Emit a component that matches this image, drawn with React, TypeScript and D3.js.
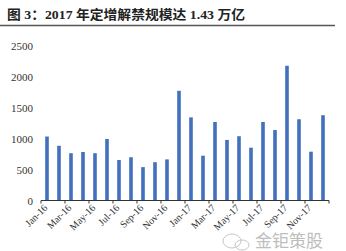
import React from "react";
import * as d3 from "d3";

const months = [
  "Jan-16","Feb-16","Mar-16","Apr-16","May-16","Jun-16","Jul-16","Aug-16","Sep-16","Oct-16","Nov-16","Dec-16",
  "Jan-17","Feb-17","Mar-17","Apr-17","May-17","Jun-17","Jul-17","Aug-17","Sep-17","Oct-17","Nov-17","Dec-17",
];
const values = [
  1035, 885, 765, 785, 765, 995, 655, 700, 540, 620, 665, 1775,
  1345, 725, 1270, 980, 1040, 855, 1270, 1140, 2180, 1315, 790, 1380,
];
const yTicks = [0, 500, 1000, 1500, 2000, 2500];
const title = "图 3：2017 年定增解禁规模达 1.43 万亿";
const watermark = "金钜策股";

export default function App() {
  const W = 346, H = 251;
  const x = d3.scaleBand<string>().domain(months).range([41, 329]).padding(0);
  const y = d3.scaleLinear().domain([0, 2500]).range([200.5, 46]);
  const barW = 3.6;
  const serif = "'Liberation Serif', 'Times New Roman', serif";
  return (
    <svg width={W} height={H} style={{ position: "absolute", left: 0, top: 0, background: "#fff" }}>
      <text x={7} y={19} fontFamily={"'Liberation Serif', 'Noto Sans CJK SC', serif"} fontWeight="bold" fontSize={13} fill="#222" textLength={238} lengthAdjust="spacingAndGlyphs">{title}</text>
      <line x1={0} x2={335} y1={25.5} y2={25.5} stroke="#555" strokeWidth={1.3} />
      {yTicks.map((t) => (
        <text key={t} x={33} y={y(t) + 4} textAnchor="end" fontFamily={serif} fontSize={11} fill="#333">{t}</text>
      ))}
      {months.map((m, i) => (
        <rect key={m} x={(x(m) as number) + x.bandwidth() / 2 - barW / 2} y={y(values[i])} width={barW} height={y(0) - y(values[i])} fill="#4270BE" />
      ))}
      <line x1={41} x2={329} y1={y(0)} y2={y(0)} stroke="#333" strokeWidth={1.2} />
      {months.map((m, i) => i % 2 === 0 ? (
        <line key={"t" + m} x1={x(m) as number} x2={x(m) as number} y1={y(0)} y2={y(0) + 3} stroke="#333" strokeWidth={1} />
      ) : null)}
      <line x1={329} x2={329} y1={y(0)} y2={y(0) + 3} stroke="#333" strokeWidth={1} />
      {months.map((m, i) => i % 2 === 0 ? (
        <text key={"l" + m} transform={`translate(${(x(m) as number) + x.bandwidth() / 2 + 1},${y(0) + 8}) rotate(-45)`} textAnchor="end" fontFamily={serif} fontSize={10} fill="#333">{m}</text>
      ) : null)}
      <g opacity={0.55}>
        <ellipse cx={232} cy={241} rx={9} ry={7} fill="none" stroke="#999" strokeWidth={1} />
        <ellipse cx={242} cy={245} rx={7} ry={5} fill="none" stroke="#999" strokeWidth={1} />
        <text x={255} y={247} fontFamily="'Noto Sans CJK SC', sans-serif" fontSize={17} fill="#888">{watermark}</text>
      </g>
    </svg>
  );
}
